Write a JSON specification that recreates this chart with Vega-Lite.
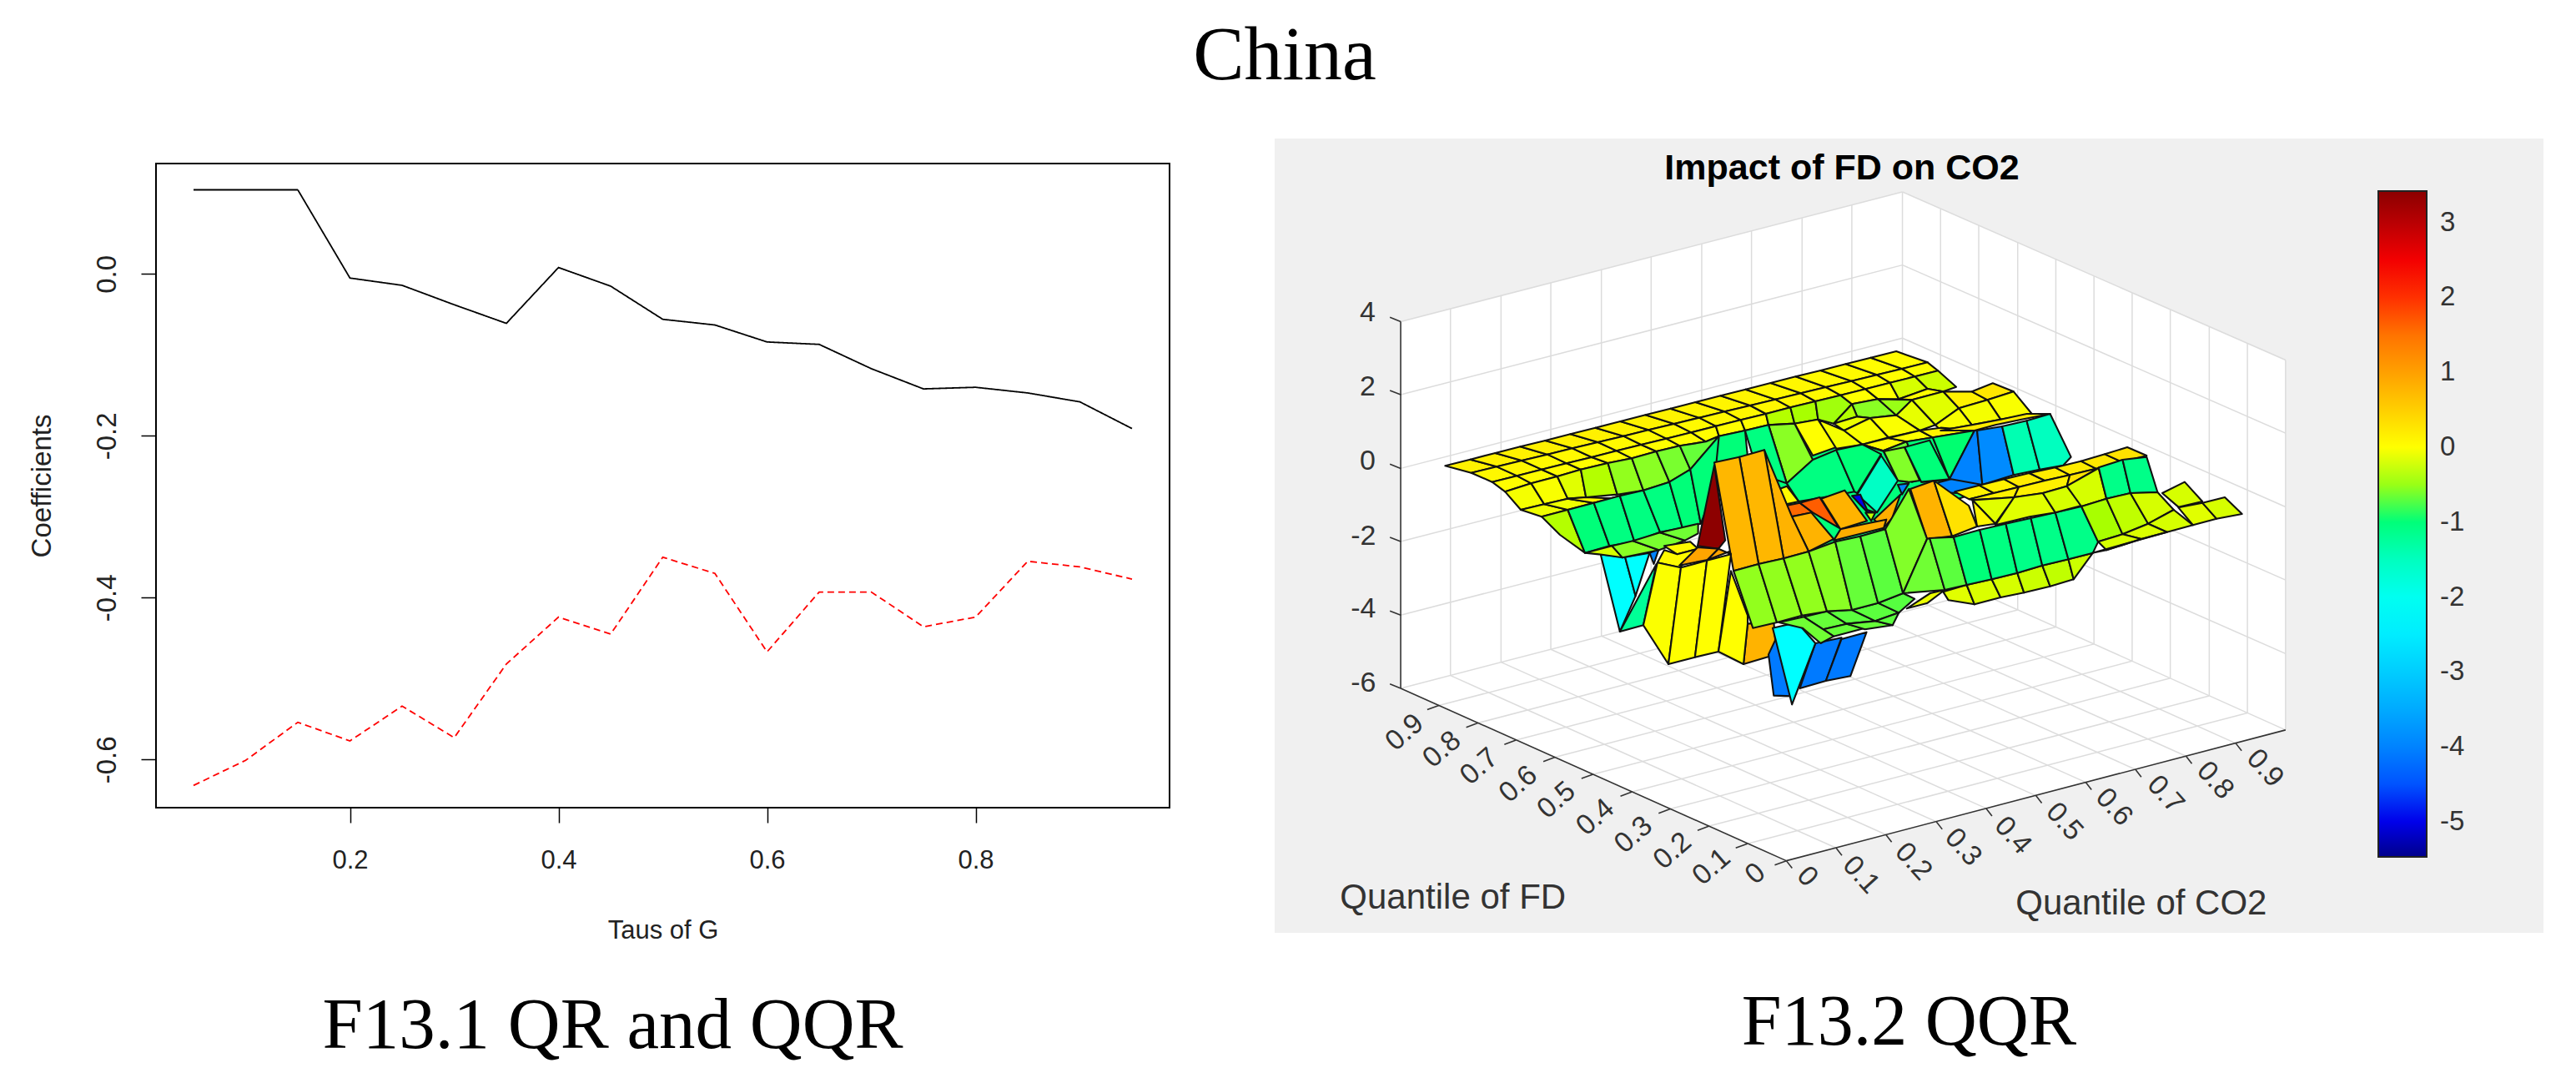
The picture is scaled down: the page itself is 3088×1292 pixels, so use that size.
{"$schema":"https://vega.github.io/schema/vega-lite/v6.json","background":"white","padding":{"left":33,"top":21,"right":0,"bottom":0},"title":{"text":"China","font":"Liberation Serif","fontSize":92,"fontWeight":"normal","color":"#000000","anchor":"middle","dx":-1,"offset":52},"bounds":"flush","spacing":1341,"hconcat":[{"bounds":"flush","spacing":0,"vconcat":[{"width":1,"height":30,"data":{"values":[{"s":1}]},"mark":{"type":"point","opacity":0},"view":{"stroke":null}},{"width":1215,"height":772,"view":{"stroke":"#000000","strokeWidth":2,"fill":"white"},"title":{"text":"F13.1 QR and QQR","orient":"bottom","font":"Liberation Serif","fontSize":87,"fontWeight":"normal","color":"#000000","anchor":"middle","dx":-60,"offset":57},"data":{"values":[{"t":0.05,"s":"QR","b":0.104},{"t":0.10,"s":"QR","b":0.104},{"t":0.15,"s":"QR","b":0.104},{"t":0.20,"s":"QR","b":-0.005},{"t":0.25,"s":"QR","b":-0.014},{"t":0.30,"s":"QR","b":-0.038},{"t":0.35,"s":"QR","b":-0.061},{"t":0.40,"s":"QR","b":0.008},{"t":0.45,"s":"QR","b":-0.015},{"t":0.50,"s":"QR","b":-0.056},{"t":0.55,"s":"QR","b":-0.063},{"t":0.60,"s":"QR","b":-0.084},{"t":0.65,"s":"QR","b":-0.087},{"t":0.70,"s":"QR","b":-0.117},{"t":0.75,"s":"QR","b":-0.142},{"t":0.80,"s":"QR","b":-0.140},{"t":0.85,"s":"QR","b":-0.147},{"t":0.90,"s":"QR","b":-0.158},{"t":0.95,"s":"QR","b":-0.191},{"t":0.05,"s":"QQR","b":-0.632},{"t":0.10,"s":"QQR","b":-0.601},{"t":0.15,"s":"QQR","b":-0.554},{"t":0.20,"s":"QQR","b":-0.577},{"t":0.25,"s":"QQR","b":-0.534},{"t":0.30,"s":"QQR","b":-0.573},{"t":0.35,"s":"QQR","b":-0.482},{"t":0.40,"s":"QQR","b":-0.424},{"t":0.45,"s":"QQR","b":-0.445},{"t":0.50,"s":"QQR","b":-0.350},{"t":0.55,"s":"QQR","b":-0.370},{"t":0.60,"s":"QQR","b":-0.467},{"t":0.65,"s":"QQR","b":-0.393},{"t":0.70,"s":"QQR","b":-0.393},{"t":0.75,"s":"QQR","b":-0.436},{"t":0.80,"s":"QQR","b":-0.424},{"t":0.85,"s":"QQR","b":-0.355},{"t":0.90,"s":"QQR","b":-0.362},{"t":0.95,"s":"QQR","b":-0.377}]},"mark":{"type":"line","strokeWidth":1.8},"encoding":{"x":{"field":"t","type":"quantitative","scale":{"domain":[0.014,0.986],"nice":false,"zero":false},"axis":{"values":[0.2,0.4,0.6,0.8],"format":".1f","grid":false,"domain":false,"tickColor":"#000000","tickSize":18,"tickWidth":1.5,"labelFont":"Liberation Sans","labelFontSize":31,"labelColor":"#222222","labelPadding":30,"title":"Taus of G","titleFont":"Liberation Sans","titleFontSize":31,"titleFontWeight":"normal","titleColor":"#222222","titlePadding":54}},"y":{"field":"b","type":"quantitative","scale":{"domain":[-0.6595,0.1365],"nice":false,"zero":false},"axis":{"values":[0,-0.2,-0.4,-0.6],"format":".1f","labelExpr":"replace(datum.label,'−','-')","grid":false,"domain":false,"tickColor":"#000000","tickSize":18,"tickWidth":1.5,"labelFont":"Liberation Sans","labelFontSize":33,"labelColor":"#222222","labelAngle":-90,"labelPadding":24,"title":"Coefficients","titleFont":"Liberation Sans","titleFontSize":33,"titleFontWeight":"normal","titleColor":"#222222","titlePadding":45}},"color":{"field":"s","type":"nominal","scale":{"domain":["QR","QQR"],"range":["#000000","#ff0000"]},"legend":null},"strokeDash":{"field":"s","type":"nominal","scale":{"domain":["QR","QQR"],"range":[[1,0],[8,5]]},"legend":null}}}]},{"width":1521,"height":952,"view":{"fill":"#f0f0f0","stroke":null},"title":{"text":"F13.2 QQR","orient":"bottom","font":"Liberation Serif","fontSize":86,"fontWeight":"normal","color":"#000000","anchor":"middle","offset":66},"resolve":{"scale":{"x":"independent","y":"independent"}},"layer":[{"encoding":{"x":{"field":"u","type":"quantitative","scale":{"domain":[8,1538],"nice":false,"zero":false},"axis":null},"y":{"field":"v","type":"quantitative","scale":{"domain":[1513,25],"nice":false,"zero":false},"axis":null}},"layer":[{"data":{"values":[{"g":1,"u":[160,765,1227,1227,625,160],"v":[368,125,440,1133,1378,1055]}]},"transform":[{"flatten":["u","v"]}],"mark":{"type":"line","order":false,"fill":"#ffffff","interpolate":"linear-closed","strokeWidth":0},"encoding":{"detail":{"field":"g"}}},{"data":{"values":[{"g":1,"u":[160,765],"v":[368,125]},{"g":2,"u":[160,765],"v":[505,262]},{"g":3,"u":[160,765],"v":[643,399]},{"g":4,"u":[160,765],"v":[780,537]},{"g":5,"u":[160,765],"v":[918,674]},{"g":6,"u":[160,765],"v":[1055,811]},{"g":7,"u":[765,1227],"v":[125,440]},{"g":8,"u":[765,1227],"v":[262,577]},{"g":9,"u":[765,1227],"v":[399,715]},{"g":10,"u":[765,1227],"v":[537,852]},{"g":11,"u":[765,1227],"v":[674,990]},{"g":12,"u":[765,1227],"v":[811,1133]},{"g":13,"u":[220,220],"v":[344,1031]},{"g":14,"u":[281,281],"v":[319,1006]},{"g":15,"u":[341,341],"v":[295,982]},{"g":16,"u":[402,402],"v":[271,957]},{"g":17,"u":[462,462],"v":[246,933]},{"g":18,"u":[523,523],"v":[222,909]},{"g":19,"u":[583,583],"v":[198,884]},{"g":20,"u":[644,644],"v":[174,860]},{"g":21,"u":[704,704],"v":[149,835]},{"g":22,"u":[765,765],"v":[125,811]},{"g":23,"u":[811,811],"v":[157,843]},{"g":24,"u":[857,857],"v":[188,875]},{"g":25,"u":[904,904],"v":[220,908]},{"g":26,"u":[950,950],"v":[251,940]},{"g":27,"u":[996,996],"v":[283,972]},{"g":28,"u":[1042,1042],"v":[314,1004]},{"g":29,"u":[1088,1088],"v":[346,1036]},{"g":30,"u":[1135,1135],"v":[377,1069]},{"g":31,"u":[1181,1181],"v":[409,1101]},{"g":32,"u":[1227,1227],"v":[440,1133]},{"g":33,"u":[220,685],"v":[1031,1354]},{"g":34,"u":[281,745],"v":[1006,1329]},{"g":35,"u":[341,806],"v":[982,1305]},{"g":36,"u":[402,866],"v":[957,1280]},{"g":37,"u":[462,926],"v":[933,1256]},{"g":38,"u":[523,986],"v":[909,1231]},{"g":39,"u":[583,1046],"v":[884,1207]},{"g":40,"u":[644,1107],"v":[860,1182]},{"g":41,"u":[704,1167],"v":[835,1158]},{"g":42,"u":[578,1181],"v":[1346,1101]},{"g":43,"u":[532,1135],"v":[1313,1069]},{"g":44,"u":[485,1088],"v":[1281,1036]},{"g":45,"u":[439,1042],"v":[1249,1004]},{"g":46,"u":[392,996],"v":[1216,972]},{"g":47,"u":[346,950],"v":[1184,940]},{"g":48,"u":[299,904],"v":[1152,908]},{"g":49,"u":[253,857],"v":[1120,875]},{"g":50,"u":[206,811],"v":[1087,843]}]},"transform":[{"flatten":["u","v"]}],"mark":{"type":"line","order":false,"stroke":"#dcdcdc","strokeWidth":1.5},"encoding":{"detail":{"field":"g"}}},{"data":{"values":[{"g":1,"u":[160,160],"v":[368,1055]},{"g":2,"u":[160,625],"v":[1055,1378]},{"g":3,"u":[625,1227],"v":[1378,1133]},{"g":4,"u":[160,147],"v":[368,360]},{"g":5,"u":[160,147],"v":[505,497]},{"g":6,"u":[160,147],"v":[643,635]},{"g":7,"u":[160,147],"v":[780,772]},{"g":8,"u":[160,147],"v":[918,910]},{"g":9,"u":[160,147],"v":[1055,1047]},{"g":10,"u":[625,611],"v":[1378,1386]},{"g":11,"u":[578,564],"v":[1346,1354]},{"g":12,"u":[532,518],"v":[1313,1321]},{"g":13,"u":[485,471],"v":[1281,1289]},{"g":14,"u":[439,425],"v":[1249,1257]},{"g":15,"u":[392,378],"v":[1216,1224]},{"g":16,"u":[346,332],"v":[1184,1192]},{"g":17,"u":[299,285],"v":[1152,1160]},{"g":18,"u":[253,239],"v":[1120,1128]},{"g":19,"u":[206,192],"v":[1087,1095]},{"g":20,"u":[625,632],"v":[1378,1392]},{"g":21,"u":[685,692],"v":[1354,1368]},{"g":22,"u":[745,752],"v":[1329,1343]},{"g":23,"u":[806,813],"v":[1305,1319]},{"g":24,"u":[866,873],"v":[1280,1294]},{"g":25,"u":[926,933],"v":[1256,1270]},{"g":26,"u":[986,993],"v":[1231,1245]},{"g":27,"u":[1046,1053],"v":[1207,1221]},{"g":28,"u":[1107,1114],"v":[1182,1196]},{"g":29,"u":[1167,1174],"v":[1158,1172]}]},"transform":[{"flatten":["u","v"]}],"mark":{"type":"line","order":false,"stroke":"#333333","strokeWidth":1.6},"encoding":{"detail":{"field":"g"}}},{"data":{"values":[{"l":"4","u":120,"v":352},{"l":"2","u":120,"v":490},{"l":"0","u":120,"v":630},{"l":"-2","u":115,"v":770},{"l":"-4","u":115,"v":907},{"l":"-6","u":115,"v":1045}]},"mark":{"type":"text","font":"Liberation Sans","fontSize":34,"color":"#333333","align":"center","baseline":"middle"},"encoding":{"text":{"field":"l"}}},{"data":{"values":[{"l":"0.9","u":165,"v":1138},{"l":"0.8","u":210,"v":1170},{"l":"0.7","u":255,"v":1202},{"l":"0.6","u":302,"v":1235},{"l":"0.5","u":348,"v":1265},{"l":"0.4","u":395,"v":1297},{"l":"0.3","u":441,"v":1330},{"l":"0.2","u":488,"v":1360},{"l":"0.1","u":535,"v":1390},{"l":"0","u":588,"v":1403}]},"mark":{"type":"text","font":"Liberation Sans","fontSize":34,"color":"#333333","align":"center","baseline":"middle","angle":-41},"encoding":{"text":{"field":"l"}}},{"data":{"values":[{"l":"0","u":650,"v":1408},{"l":"0.1","u":715,"v":1405},{"l":"0.2","u":778,"v":1380},{"l":"0.3","u":838,"v":1353},{"l":"0.4","u":898,"v":1331},{"l":"0.5","u":960,"v":1305},{"l":"0.6","u":1020,"v":1278},{"l":"0.7","u":1082,"v":1254},{"l":"0.8","u":1142,"v":1228},{"l":"0.9","u":1202,"v":1205}]},"mark":{"type":"text","font":"Liberation Sans","fontSize":34,"color":"#333333","align":"center","baseline":"middle","angle":48},"encoding":{"text":{"field":"l"}}},{"data":{"values":[{"l":"Quantile of FD","u":223,"v":1447},{"l":"Quantile of CO2","u":1053,"v":1459}]},"mark":{"type":"text","font":"Liberation Sans","fontSize":42,"color":"#333333","align":"center","baseline":"middle"},"encoding":{"text":{"field":"l"}}},{"data":{"values":[{"l":"Impact of FD  on CO2","u":692,"v":82}]},"mark":{"type":"text","font":"Liberation Sans","fontSize":43,"fontWeight":"bold","color":"#000000","align":"center","baseline":"middle"},"encoding":{"text":{"field":"l"}}}]},{"data":{"values":[
{"c":1,"z":0.15,"u":[20,68,119,70],"v":[472,449,475,497]},{"c":2,"z":0.15,"u":[68,116,167,119],"v":[449,426,453,475]},{"c":3,"z":0.15,"u":[116,164,216,167],"v":[426,403,431,453]},{"c":4,"z":0.15,"u":[164,212,264,216],"v":[403,381,409,431]},{"c":5,"z":0.15,"u":[212,260,313,264],"v":[381,358,387,409]},{"c":6,"z":0.15,"u":[260,308,362,313],"v":[358,335,365,387]},{"c":7,"z":0.12,"u":[308,356,410,362],"v":[335,312,343,365]},{"c":8,"z":0.12,"u":[356,404,459,410],"v":[312,289,321,343]},{"c":9,"z":0.12,"u":[404,452,507,459],"v":[289,266,299,321]},{"c":10,"z":0.1,"u":[452,500,556,507],"v":[266,243,277,299]},{"c":11,"z":0.1,"u":[500,548,605,556],"v":[243,220,255,277]},{"c":12,"z":0.1,"u":[548,596,653,605],"v":[220,197,233,255]},{"c":13,"z":0.08,"u":[596,644,702,653],"v":[197,174,211,233]},{"c":14,"z":0.08,"u":[644,692,750,702],"v":[174,151,189,211]},{"c":15,"z":0.05,"u":[692,740,799,750],"v":[151,129,167,189]},{"c":16,"z":0.05,"u":[740,788,848,799],"v":[129,106,145,167]},{"c":17,"z":0.03,"u":[788,836,896,848],"v":[106,83,123,145]},{"c":18,"z":0.02,"u":[836,885,945,896],"v":[83,60,100,123]},
{"c":19,"z":0.08,"u":[70,119,158,110],"v":[497,475,508,530]},{"c":20,"z":0.08,"u":[119,167,205,158],"v":[475,453,485,508]},{"c":21,"z":0.06,"u":[167,216,253,205],"v":[453,431,463,485]},{"c":22,"z":0.06,"u":[216,264,301,253],"v":[431,409,441,463]},{"c":23,"z":0.06,"u":[264,313,349,301],"v":[409,387,418,441]},{"c":24,"z":0.05,"u":[313,362,396,349],"v":[387,365,396,418]},{"c":25,"z":0.05,"u":[362,410,444,396],"v":[365,343,374,396]},{"c":26,"z":0.05,"u":[410,459,492,444],"v":[343,321,352,374]},{"c":27,"z":0.05,"u":[459,507,539,492],"v":[321,299,329,352]},{"c":28,"z":0.08,"u":[507,556,587,539],"v":[299,277,307,329]},{"c":29,"z":0.08,"u":[556,605,635,587],"v":[277,255,285,307]},{"c":30,"z":0.08,"u":[605,653,682,635],"v":[255,233,262,285]},{"c":31,"z":0.08,"u":[653,702,730,682],"v":[233,211,240,262]},{"c":32,"z":0.05,"u":[702,750,778,730],"v":[211,189,218,240]},{"c":33,"z":0.03,"u":[750,799,826,778],"v":[189,167,196,218]},{"c":34,"z":0.02,"u":[799,848,873,826],"v":[167,145,173,196]},{"c":35,"z":0.02,"u":[848,896,921,873],"v":[145,123,151,173]},{"c":36,"z":-0.02,"u":[896,945,965,921],"v":[123,100,130,151]},
{"c":37,"z":0.02,"u":[110,158,185,135],"v":[530,508,535,565]},{"c":38,"z":0.02,"u":[158,205,235,185],"v":[508,485,510,535]},{"c":39,"z":0.02,"u":[205,253,280,235],"v":[485,463,485,510]},{"c":40,"z":0.01,"u":[253,301,332,280],"v":[463,441,462,485]},{"c":41,"z":0,"u":[301,349,378,332],"v":[441,418,445,462]},{"c":42,"z":0,"u":[349,396,425,378],"v":[418,396,420,445]},{"c":43,"z":0,"u":[396,444,470,425],"v":[396,374,400,420]},{"c":44,"z":0.02,"u":[444,492,520,470],"v":[374,352,385,400]},{"c":45,"z":0.02,"u":[492,539,545,520],"v":[352,329,365,385]},{"c":46,"z":0.02,"u":[539,587,595,545],"v":[329,307,345,365]},{"c":47,"z":0.02,"u":[587,635,640,595],"v":[307,285,325,345]},{"c":47.5,"z":-1.02,"u":[640,1000,1050,990,864,720,669],"v":[325,345,560,600,700,780,700]},
{"c":48,"z":-0.35,"u":[635,682,690,640],"v":[285,262,320,325]},{"c":49,"z":-0.4,"u":[682,730,735,690],"v":[262,240,305,320]},{"c":50,"z":-0.45,"u":[730,778,800,765,735],"v":[240,218,250,320,305]},{"c":51,"z":0,"u":[778,826,850,800],"v":[218,196,232,250]},{"c":52,"z":0,"u":[826,873,890,850],"v":[196,173,232,232]},{"c":53,"z":-0.2,"u":[873,921,945,890],"v":[173,151,195,232]},{"c":54,"z":-0.25,"u":[921,965,1000,975,945],"v":[151,130,188,205,195]},{"c":55,"z":0.02,"u":[890,945,975,915],"v":[232,195,205,235]},
{"c":56,"z":-0.6,"u":[800,850,885,835,810],"v":[250,232,290,300,295]},{"c":57,"z":-0.5,"u":[850,915,885],"v":[232,235,290]},{"c":58,"z":-0.35,"u":[765,800,810],"v":[320,250,295]},{"c":59,"z":-0.1,"u":[765,810,835,785],"v":[320,295,300,345]},
{"c":60,"z":-0.12,"u":[885,915,960,930],"v":[290,235,325,345]},{"c":61,"z":-0.15,"u":[915,975,1005,960],"v":[235,205,265,325]},{"c":62,"z":0.15,"u":[975,1030,1060,1005],"v":[205,205,235,265]},{"c":63,"z":0.25,"u":[1030,1070,1110,1060],"v":[205,175,205,235]},{"c":64,"z":-0.03,"u":[1060,1110,1145,1085],"v":[235,205,285,305]},{"c":65,"z":-0.05,"u":[1005,1060,1085,1030],"v":[265,235,305,325]},{"c":66,"z":-0.03,"u":[960,1005,1030,970],"v":[325,265,325,345]},
{"c":67,"z":0,"u":[690,735,770,725],"v":[320,305,405,435]},{"c":68,"z":-0.05,"u":[735,785,820,770],"v":[305,345,395,410]},{"c":69,"z":-0.03,"u":[785,835,870,820],"v":[345,300,370,395]},{"c":70,"z":-0.02,"u":[835,885,930,870],"v":[300,290,345,370]},{"c":71,"z":0.05,"u":[820,870,905,860],"v":[395,372,385,418]},{"c":72,"z":0,"u":[870,930,955,905],"v":[372,345,370,385]},{"c":73,"z":0.12,"u":[930,970,1035,955],"v":[345,335,345,370]},{"c":74,"z":0.2,"u":[970,1030,1085,1135,1180,1125,1075,1035],"v":[345,325,305,285,285,305,325,345]},
{"c":75,"z":-0.75,"u":[860,905,935,915],"v":[418,385,520,530]},{"c":76,"z":-1.0,"u":[905,955,987,933],"v":[385,370,520,530]},{"c":77,"z":-0.95,"u":[955,1035,987],"v":[370,345,520]},{"c":78,"z":-4.0,"u":[1035,1040,1050,990,987],"v":[345,345,540,560,520]},{"c":79,"z":-3.9,"u":[1040,1088,1110,1050],"v":[345,330,505,540]},{"c":80,"z":-1.4,"u":[1088,1135,1160,1110],"v":[330,310,485,505]},{"c":81,"z":-1.5,"u":[1135,1180,1220,1205,1160],"v":[310,285,440,470,485]},
{"c":82,"z":-0.6,"u":[640,690,725,675],"v":[325,320,450,535]},{"c":83,"z":-1.05,"u":[725,770,805,746,698,675],"v":[450,415,565,585,600,535]},{"c":84,"z":-1.0,"u":[770,820,856,810,805],"v":[415,395,430,570,565]},{"c":85,"z":-0.6,"u":[820,860,888,909,861],"v":[395,418,525,530,420]},{"c":86,"z":-0.65,"u":[861,901,930,909,888],"v":[420,405,525,530,525]},{"c":87,"z":-1.0,"u":[901,949,987,933],"v":[405,380,520,530]},{"c":88,"z":-1.55,"u":[856,888,848,810],"v":[435,525,640,575]},{"c":89,"z":-5.0,"u":[800,816,829,845,830],"v":[580,575,630,640,640]},{"c":90,"z":-4.0,"u":[888,909,896],"v":[540,535,575]},{"c":91,"z":-4.0,"u":[960,990,1050,1000,960],"v":[535,520,540,570,565]},
{"c":92,"z":-0.05,"u":[135,185,210,165],"v":[565,535,610,630]},{"c":93,"z":-0.03,"u":[185,235,255,210],"v":[535,510,590,610]},{"c":94,"z":-0.15,"u":[235,280,290,255],"v":[510,485,585,590]},{"c":95,"z":-0.35,"u":[280,332,350,290],"v":[485,462,575,585]},{"c":96,"z":-0.55,"u":[332,378,400,350],"v":[462,445,560,575]},{"c":97,"z":-0.6,"u":[378,425,450,400],"v":[445,420,530,560]},{"c":98,"z":-0.7,"u":[425,470,490,450],"v":[420,400,485,530]},{"c":99,"z":-0.8,"u":[470,520,545,490],"v":[400,385,365,485]},
{"c":100,"z":-0.08,"u":[165,210,255,205],"v":[630,610,630,655]},{"c":101,"z":-0.08,"u":[210,255,305,255],"v":[610,590,605,630]},{"c":102,"z":0.08,"u":[255,290,350,305],"v":[590,585,590,605]},{"c":103,"z":0.08,"u":[305,350,400,355],"v":[605,590,560,580]},{"c":104,"z":-0.35,"u":[205,255,288,240],"v":[655,630,785,720]},
{"c":105,"z":-1.0,"u":[255,305,335,288],"v":[630,605,760,785]},{"c":106,"z":-1.05,"u":[305,355,383,335],"v":[605,580,745,760]},{"c":107,"z":-1.05,"u":[355,400,432,383],"v":[580,560,710,745]},{"c":108,"z":-1.05,"u":[400,450,475,432],"v":[560,530,695,710]},{"c":109,"z":-1.0,"u":[450,490,510,475],"v":[530,485,680,695]},{"c":110,"z":-1.0,"u":[490,545,556,510],"v":[485,365,460,680]},{"c":111,"z":-1.0,"u":[545,595,600,540],"v":[365,345,440,460]},{"c":112,"z":-1.05,"u":[595,640,675,620],"v":[345,325,535,500]},
{"c":113,"z":-2.2,"u":[318,365,385,355],"v":[790,800,940,1068]},{"c":114,"z":-2.2,"u":[365,412,385],"v":[800,785,940]},{"c":115,"z":-4.0,"u":[412,430,420],"v":[785,770,825]},{"c":116,"z":-1.2,"u":[425,400,355],"v":[825,1045,1068]},
{"c":117,"z":-0.2,"u":[288,340,360,315],"v":[785,760,802,790]},{"c":118,"z":-0.6,"u":[340,380,430,360],"v":[760,742,775,802]},{"c":119,"z":-0.7,"u":[380,432,480,430],"v":[742,712,740,775]},{"c":120,"z":-0.75,"u":[432,505,505,480],"v":[712,680,715,740]},
{"c":121,"z":0.05,"u":[440,490,505,465],"v":[760,745,770,790]},{"c":122,"z":0.05,"u":[427,440,465,505,470],"v":[820,775,790,770,838]},
{"c":123,"z":0.02,"u":[661,675,698,674],"v":[555,545,600,610]},{"c":124,"z":1.6,"u":[674,700,725,682],"v":[615,605,640,655]},{"c":125,"z":1.7,"u":[700,738,775,725],"v":[605,585,695,640]},{"c":126,"z":0.8,"u":[741,786,829,778],"v":[590,560,670,700]},{"c":127,"z":-0.3,"u":[826,845,837],"v":[640,640,670]},{"c":128,"z":0.85,"u":[842,893,877,861],"v":[665,575,660,695]},{"c":129,"z":0.85,"u":[778,826,866,861,765],"v":[700,680,665,695,740]},{"c":130,"z":0.8,"u":[685,722,765,717],"v":[655,640,735,780]},
{"c":131,"z":0.8,"u":[632,685,717,669],"v":[415,655,780,805]},{"c":132,"z":3.4,"u":[536,557,544,504],"v":[470,740,770,760]},{"c":133,"z":0.75,"u":[584,632,669,621],"v":[440,415,805,825]},{"c":134,"z":0.75,"u":[536,584,621,573],"v":[460,440,825,850]},{"c":135,"z":0.95,"u":[469,504,544,523],"v":[830,765,770,810]},{"c":136,"z":0.95,"u":[523,565,568,544],"v":[810,780,790,770]},
{"c":137,"z":-0.02,"u":[427,472,448,400],"v":[820,838,1185,1045]},{"c":138,"z":0,"u":[472,522,499,448],"v":[838,812,1160,1185]},{"c":139,"z":0,"u":[522,568,544,499],"v":[812,790,1140,1160]},{"c":140,"z":0.8,"u":[600,650,655,592],"v":[1040,1030,1150,1185]},{"c":141,"z":0,"u":[568,600,600,592,544],"v":[850,1010,1040,1185,1140]},
{"c":142,"z":-4.1,"u":[640,655,690,685,650],"v":[1150,1090,1250,1300,1298]},{"c":143,"z":-4.1,"u":[730,780,750,700],"v":[1110,1090,1245,1272]},{"c":144,"z":-4.1,"u":[780,828,797,750],"v":[1095,1070,1228,1245]},{"c":145,"z":-2.2,"u":[648,695,730,685],"v":[1055,1035,1110,1330]},
{"c":146,"z":-0.1,"u":[905,950,978,945],"v":[985,930,918,965]},{"c":147,"z":-0.15,"u":[975,1020,1035,985],"v":[925,900,970,955]},{"c":148,"z":-0.18,"u":[1020,1068,1085,1035],"v":[900,880,945,970]},{"c":149,"z":-0.2,"u":[1068,1117,1130,1085],"v":[880,857,928,945]},{"c":150,"z":-0.25,"u":[1117,1165,1180,1130],"v":[857,830,905,928]},{"c":151,"z":-0.3,"u":[1165,1215,1225,1180],"v":[830,808,880,905]},{"c":152,"z":-0.25,"u":[1215,1262,1225],"v":[808,785,880]},
{"c":153,"z":-0.8,"u":[708,752,790,745],"v":[1015,995,1040,1060]},{"c":154,"z":-0.85,"u":[752,800,845,790],"v":[995,990,1030,1040]},{"c":155,"z":-0.85,"u":[800,850,890,845],"v":[990,965,1000,1030]},{"c":156,"z":-0.87,"u":[850,898,920,890],"v":[965,930,950,1000]},{"c":157,"z":-0.8,"u":[745,790,825,765],"v":[1060,1040,1055,1085]},{"c":158,"z":-0.8,"u":[790,845,878,825],"v":[1040,1030,1045,1060]},{"c":159,"z":-0.85,"u":[845,890,878],"v":[1030,1000,1045]},{"c":160,"z":-0.75,"u":[660,708,745,765,740,705],"v":[1035,1015,1060,1085,1110,1055]},
{"c":161,"z":-0.55,"u":[573,621,656,610],"v":[850,825,1035,1055]},{"c":162,"z":-0.55,"u":[621,669,704,656],"v":[825,805,1010,1035]},{"c":163,"z":-0.55,"u":[669,717,752,704],"v":[805,780,995,1010]},{"c":164,"z":-0.6,"u":[717,768,800,752],"v":[780,745,990,995]},{"c":165,"z":-0.8,"u":[768,816,850,800],"v":[745,725,965,990]},{"c":166,"z":-0.85,"u":[816,864,898,850],"v":[725,700,930,965]},
{"c":167,"z":0.8,"u":[912,957,992,944],"v":[555,525,725,735]},{"c":168,"z":0.3,"u":[957,1024,1040,992],"v":[525,615,690,725]},{"c":169,"z":-0.65,"u":[909,944,898,864],"v":[555,735,930,700]},{"c":170,"z":-0.75,"u":[944,949,978,898],"v":[735,732,918,930]},{"c":171,"z":-0.85,"u":[949,995,1020,978],"v":[732,728,900,918]},
{"c":172,"z":-1.0,"u":[995,1045,1068,1020],"v":[728,702,880,900]},{"c":173,"z":-1.05,"u":[1045,1095,1117,1068],"v":[702,680,857,880]},{"c":174,"z":-1.1,"u":[1095,1143,1165,1117],"v":[680,660,830,857]},{"c":175,"z":-1.1,"u":[1143,1190,1215,1165],"v":[660,640,808,830]},{"c":176,"z":-1.1,"u":[1190,1240,1272,1262,1215],"v":[640,618,745,785,808]},
{"c":177,"z":0.15,"u":[997,1044,1072,1025],"v":[565,542,570,592]},{"c":178,"z":0.15,"u":[1044,1092,1120,1072],"v":[542,520,548,570]},{"c":179,"z":0.2,"u":[1092,1140,1170,1120],"v":[520,498,525,548]},{"c":180,"z":0.2,"u":[1140,1190,1218,1170],"v":[498,478,505,525]},{"c":181,"z":0.2,"u":[1190,1239,1268,1218],"v":[478,455,482,505]},{"c":182,"z":0.25,"u":[1239,1285,1318,1268],"v":[455,430,458,482]},{"c":183,"z":0.3,"u":[1285,1328,1365,1318],"v":[430,405,435,458]},
{"c":184,"z":0.15,"u":[1025,1072,1120,1111,1031],"v":[592,570,548,585,595]},{"c":185,"z":0.15,"u":[1120,1170,1218,1212,1166,1111],"v":[548,525,505,545,570,585]},{"c":186,"z":0.3,"u":[1218,1268,1288,1273,1212],"v":[505,482,590,480,545]},
{"c":187,"z":-0.15,"u":[1031,1111,1075],"v":[595,585,680]},{"c":188,"z":0.1,"u":[1031,1075,1040],"v":[595,680,690]},{"c":189,"z":-0.15,"u":[1111,1166,1190,1141,1075],"v":[585,570,640,655,685]},{"c":190,"z":-0.2,"u":[1166,1212,1240,1190],"v":[570,545,615,640]},{"c":191,"z":-0.2,"u":[1212,1273,1288,1240],"v":[545,480,590,618]},
{"c":192,"z":-1.1,"u":[1273,1319,1334,1288],"v":[478,450,570,590]},{"c":193,"z":-1.1,"u":[1319,1365,1386,1334],"v":[450,440,567,570]},
{"c":194,"z":-0.4,"u":[1240,1288,1319,1272],"v":[618,590,718,745]},{"c":195,"z":-0.3,"u":[1288,1334,1368,1319],"v":[590,570,680,718]},{"c":196,"z":-0.2,"u":[1334,1386,1417,1368],"v":[570,567,630,680]},
{"c":197,"z":-0.2,"u":[1395,1438,1472,1426],"v":[570,530,600,620]},{"c":198,"z":-0.15,"u":[1426,1472,1499,1454],"v":[622,605,662,685]},{"c":199,"z":-0.2,"u":[1472,1515,1548,1499],"v":[605,585,645,662]},{"c":200,"z":-0.2,"u":[1417,1454,1404,1368],"v":[630,685,710,680]},{"c":201,"z":-0.18,"u":[1368,1404,1355,1319],"v":[680,710,735,718]},{"c":202,"z":-0.2,"u":[1319,1355,1288,1272],"v":[718,735,775,745]},{"c":203,"z":-0.15,"u":[1288,1355,1404,1261],"v":[775,735,710,785]}
]},"transform":[{"flatten":["u","v"]}],"mark":{"type":"line","order":false,"interpolate":"linear-closed","stroke":"#111111","strokeWidth":2.1,"strokeJoin":"round"},"encoding":{"x":{"field":"u","type":"quantitative","scale":{"domain":[-307,2126],"nice":false,"zero":false},"axis":null},"y":{"field":"v","type":"quantitative","scale":{"domain":[2151,-705],"nice":false,"zero":false},"axis":null},"detail":{"field":"c"},"fill":{"field":"z","type":"quantitative","scale":{"domain":[-5.47,-4.9,-2.2,-0.89,-0.875,-0.4,0,1,2,2.4,3.42],"range":["#00008b","#0000ff","#00ffff","#00ff66","#55ff40","#a8ff00","#ffff00","#ffa000","#ff3000","#ff0000","#8b0000"]},"legend":{"orient":"none","legendX":2664,"legendY":63,"title":null,"gradientLength":798,"gradientThickness":58,"gradientStrokeColor":"#222222","gradientStrokeWidth":2,"values":[-5,-4,-3,-2,-1,0,1,2,3],"labelFont":"Liberation Sans","labelFontSize":33,"labelColor":"#333333","labelOffset":16,"format":"d","labelExpr":"replace(datum.label,'−','-')"}}}}]}]}
